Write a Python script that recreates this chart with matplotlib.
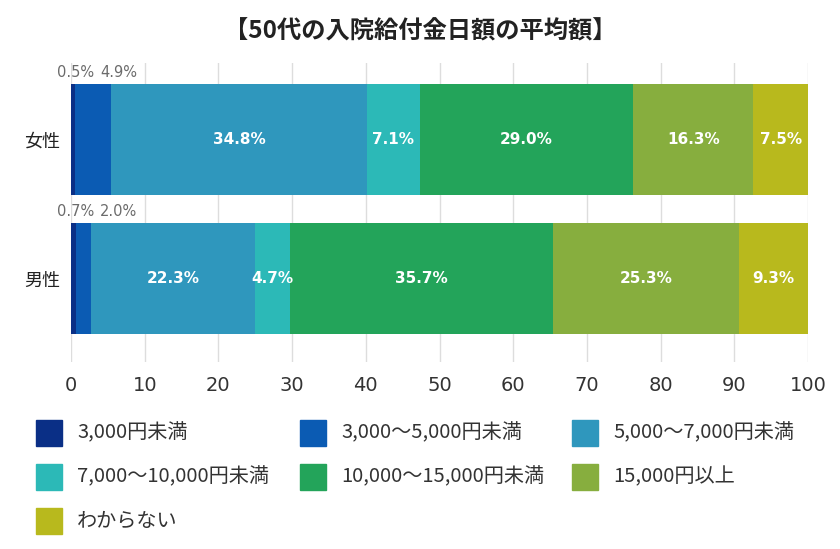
import numpy as np
import matplotlib
matplotlib.use('Agg')
import matplotlib.pyplot as plt
from matplotlib.patches import Rectangle

plt.rcParams['font.family'] = ['Noto Sans CJK JP', 'DejaVu Sans']

title = '【50代の入院給付金日額の平均額】'
groups = ['女性', '男性']
categories = ['3,000円未満', '3,000～5,000円未満', '5,000～7,000円未満',
              '7,000～10,000円未満', '10,000～15,000円未満', '15,000円以上', 'わからない']
female = [0.5, 4.9, 34.8, 7.1, 29.0, 16.3, 7.5]
male = [0.7, 2.0, 22.3, 4.7, 35.7, 25.3, 9.3]
colors = ['#0a2f86', '#0b5bb3', '#2f97bd', '#2cb9b7', '#23a45a', '#87ae3e', '#b8b91d']
xticks = [0, 10, 20, 30, 40, 50, 60, 70, 80, 90, 100]

W, H = 840, 549
fig = plt.figure(figsize=(W / 100, H / 100), dpi=100)
ax = fig.add_axes([71 / W, 1 - 362 / H, (808 - 71) / W, (362 - 63) / H])

data = np.array([female, male])
y = np.arange(len(groups))
left = np.zeros(len(groups))
for i, cat in enumerate(categories):
    vals = data[:, i]
    ax.barh(y, vals, left=left, height=0.8, color=colors[i], zorder=2)
    for j in range(len(groups)):
        if i < 2:
            # small segments: labels sit above the bar
            ax.annotate(f'{vals[j]:.1f}%', xy=(0, y[j] - 0.4), xytext=(-10 + i * 31, 8),
                        textcoords='offset points', ha='left', va='center',
                        fontsize=10.5, color='#6b6b6b', family='DejaVu Sans')
        else:
            ax.text(left[j] + vals[j] / 2, y[j], f'{vals[j]:.1f}%', ha='center', va='center',
                    fontsize=11, color='white', fontweight='bold', family='DejaVu Sans')
    left = left + vals

ax.set_xlim(0, 100)
ax.set_ylim(1.60, -0.55)
ax.set_xticks(xticks)
ax.set_xticklabels([str(t) for t in xticks], fontsize=14, color='#333333', family='DejaVu Sans')
ax.set_yticks(y)
ax.set_yticklabels(groups, fontsize=13, color='#222222')
ax.tick_params(axis='both', length=0)
ax.tick_params(axis='x', pad=10)
ax.tick_params(axis='y', pad=8)
ax.grid(axis='x', color='#dddddd', linewidth=1, zorder=0)
for s in ax.spines.values():
    s.set_visible(False)

fig.text(420 / W, 1 - 32 / H, title, ha='center', va='center', fontsize=17.5,
         fontweight='bold', color='#222222')

# legend laid out in rows of three
col_x = [36, 300, 572]
row_y = [433, 477, 521]
for k, cat in enumerate(categories):
    cx = col_x[k % 3]
    cy = row_y[k // 3]
    fig.add_artist(Rectangle((cx / W, 1 - (cy + 13) / H), 26 / W, 26 / H,
                             transform=fig.transFigure, color=colors[k]))
    fig.text((cx + 41) / W, 1 - cy / H, cat, ha='left', va='center',
             fontsize=14.5, color='#333333')

fig.savefig('out.png', dpi=100)
